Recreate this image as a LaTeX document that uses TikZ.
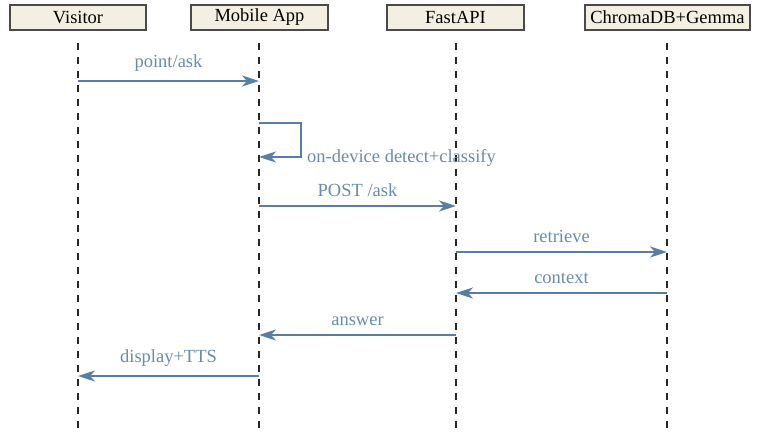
\documentclass[tikz,border=0pt]{standalone}
\usepackage{fontspec}
\setmainfont{Liberation Serif}
\usetikzlibrary{arrows.meta}
\definecolor{msg}{HTML}{5A7EA3}
\definecolor{msgtxt}{HTML}{6A8BAE}
\definecolor{boxfill}{HTML}{F3EFE2}
\definecolor{boxdraw}{HTML}{4A4A4A}
\tikzset{
  actor/.style={draw=boxdraw, fill=boxfill, line width=1.1pt, minimum height=25pt, inner sep=0pt, font=\fontsize{18.5}{20}\selectfont},
  lifeline/.style={draw=black!85, line width=1.05pt, dash pattern=on 7pt off 7pt},
  msgarrow/.style={draw=msg, line width=2.4pt, -{Stealth[length=17pt, width=11pt, inset=5pt]}},
  msglabel/.style={text=msgtxt, font=\fontsize{18.5}{20}\selectfont, inner sep=2pt},
}
\begin{document}
\begin{tikzpicture}[x=1pt,y=-1pt]
\useasboundingbox (0,0) rectangle (769,435);
% actors
\node[actor, minimum width=136pt] (vis) at (78,17.5) {Visitor};
\node[actor, minimum width=137pt] (app) at (259.5,17.5) {Mobile App};
\node[actor, minimum width=137pt] (api) at (455.5,17.5) {FastAPI};
\node[actor, minimum width=165pt] (db) at (667.5,17.5) {ChromaDB+Gemma};
% lifeline ends
\coordinate (vT) at (78,43); \coordinate (vB) at (78,435);
\coordinate (aT) at (259,43); \coordinate (aB) at (259,435);
\coordinate (fT) at (456,43); \coordinate (fB) at (456,435);
\coordinate (dT) at (667,43); \coordinate (dB) at (667,435);
\draw[lifeline] (vT) -- (vB);
\draw[lifeline] (aT) -- (aB);
\draw[lifeline] (fT) -- (fB);
\draw[lifeline] (dT) -- (dB);
% message points
\coordinate (v1) at (78,81);  \coordinate (a1) at (259,81);
\coordinate (a2) at (259,123); \coordinate (a2b) at (259,157);
\coordinate (a3) at (259,206); \coordinate (f3) at (456,206);
\coordinate (f4) at (456,252); \coordinate (d4) at (667,252);
\coordinate (d5) at (667,293); \coordinate (f5) at (456,293);
\coordinate (f6) at (456,335); \coordinate (a6) at (259,335);
\coordinate (a7) at (259,376); \coordinate (v7) at (78,376);
% messages
\draw[msgarrow] (v1) -- node[msglabel, above=6pt] (l1) {point/ask} (a1);
\draw[msgarrow] (a2) -- ++(42,0) |- (a2b);
\node[msglabel, anchor=west] (l2) at (305,157.5) {on-device detect+classify};
\draw[msgarrow] (a3) -- node[msglabel, above=6pt] (l3) {POST /ask} (f3);
\draw[msgarrow] (f4) -- node[msglabel, above=6pt] (l4) {retrieve} (d4);
\draw[msgarrow] (d5) -- node[msglabel, above=6pt] (l5) {context} (f5);
\draw[msgarrow] (f6) -- node[msglabel, above=6pt] (l6) {answer} (a6);
\draw[msgarrow] (a7) -- node[msglabel, above=6pt] (l7) {display+TTS} (v7);
\end{tikzpicture}
\end{document}
